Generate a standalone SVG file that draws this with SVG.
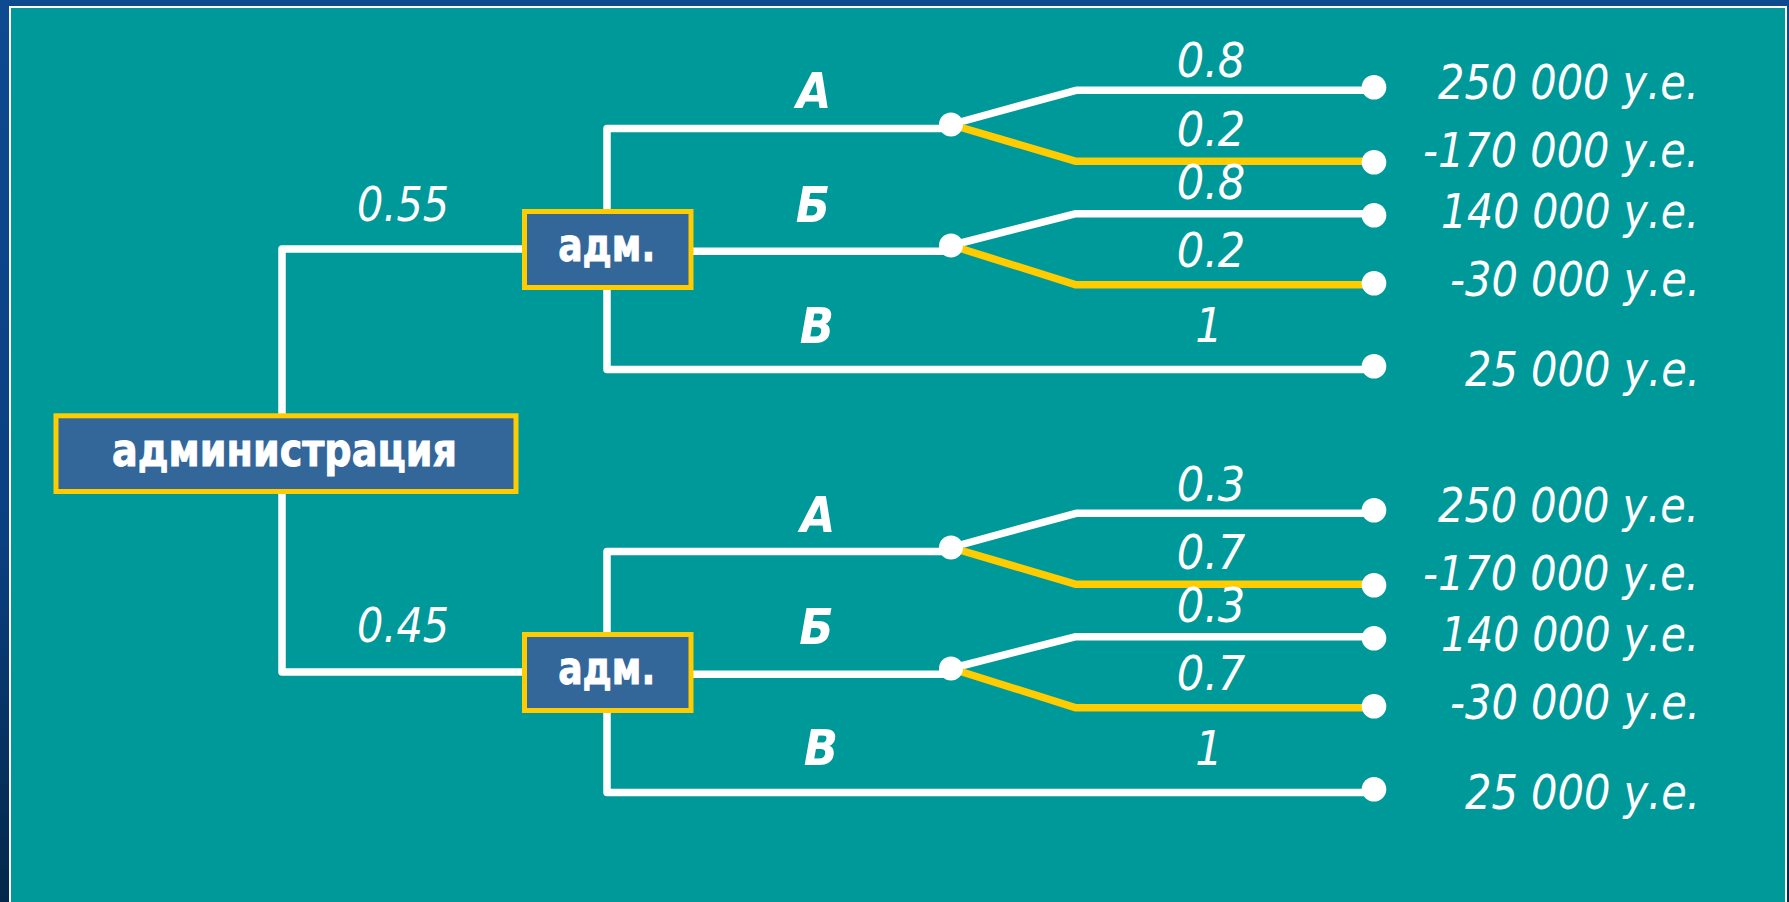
<svg xmlns="http://www.w3.org/2000/svg" width="1789" height="902" viewBox="0 0 1789 902">
<defs>
<linearGradient id="bg" x1="0" y1="0" x2="0" y2="1">
<stop offset="0" stop-color="#0d4a90"/>
<stop offset="0.6" stop-color="#0a3f80"/>
<stop offset="1" stop-color="#03284a"/>
</linearGradient>
<style>
.w{fill:none;stroke:#ffffff;stroke-width:7.5;stroke-linejoin:round}
.y{fill:none;stroke:#ffcc00;stroke-width:7.5;stroke-linejoin:round}
.dot{fill:#ffffff}
.box{fill:#336699;stroke:#ffcc00;stroke-width:5}
.bl{font-family:"DejaVu Sans Condensed","DejaVu Sans",sans-serif;font-stretch:condensed;font-weight:bold;font-size:47px;fill:#ffffff;stroke:#ffffff;stroke-width:0.9;text-anchor:middle}
.it{font-family:"DejaVu Sans Condensed","DejaVu Sans",sans-serif;font-stretch:condensed;font-style:italic;font-size:48px;fill:#ffffff}
.lt{font-family:"DejaVu Sans Condensed","DejaVu Sans",sans-serif;font-stretch:condensed;font-style:italic;font-weight:bold;font-size:50px;fill:#ffffff;text-anchor:middle}
.pr{text-anchor:middle}
.val{text-anchor:end}
</style>
</defs>
<rect x="0" y="0" width="1789" height="902" fill="url(#bg)"/>
<rect x="10" y="7" width="1776" height="960" fill="#009999" stroke="#ffffff" stroke-width="2"/>

<g id="connectors">
<path class="w" d="M522 249 H282 V672 H522"/>
<g id="upper-lines">
<path class="w" d="M951 128.5 H607 V369.5 H1374"/>
<path class="w" d="M693 251.3 H951"/>
<path class="w" d="M951 124.5 L1076 90.3 H1374"/>
<path class="y" d="M951 124.5 L1076 161.3 H1374"/>
<path class="w" d="M951 245.5 L1076 213.7 H1374"/>
<path class="y" d="M951 245.5 L1076 284.8 H1374"/>
</g>
<g id="lower-lines" transform="translate(0,423)">
<path class="w" d="M951 128.5 H607 V369.5 H1374"/>
<path class="w" d="M693 251.3 H951"/>
<path class="w" d="M951 124.5 L1076 90.3 H1374"/>
<path class="y" d="M951 124.5 L1076 161.3 H1374"/>
<path class="w" d="M951 245.5 L1076 213.7 H1374"/>
<path class="y" d="M951 245.5 L1076 284.8 H1374"/>
</g>
</g>

<g id="chance-upper">
<circle class="dot" cx="951" cy="124.5" r="12"/>
<circle class="dot" cx="951" cy="245.5" r="12"/>
</g>
<g id="chance-lower" transform="translate(0,423)">
<circle class="dot" cx="951" cy="124.5" r="12"/>
<circle class="dot" cx="951" cy="245.5" r="12"/>
</g>

<g id="root">
<rect class="box" x="56" y="415.8" width="460" height="75.7"/>
<text class="bl" x="284.5" y="465.7" textLength="345" lengthAdjust="spacingAndGlyphs">администрация</text>
</g>
<g id="adm-upper">
<rect class="box" x="524.5" y="211.5" width="166.5" height="76"/>
<text class="bl" x="606.7" y="261" textLength="97" lengthAdjust="spacingAndGlyphs">адм.</text>
</g>
<g id="adm-lower">
<rect class="box" x="524.5" y="634.5" width="166.5" height="76"/>
<text class="bl" x="606.7" y="684" textLength="97" lengthAdjust="spacingAndGlyphs">адм.</text>
</g>

<g id="root-labels">
<text class="it" x="357" y="220.5" textLength="92" lengthAdjust="spacingAndGlyphs">0.55</text>
<text class="it" x="357" y="642.3" textLength="92" lengthAdjust="spacingAndGlyphs">0.45</text>
</g>

<g id="alt-labels">
<text class="lt" x="814" y="108.3">А</text>
<text class="lt" x="813" y="221.7">Б</text>
<text class="lt" x="817" y="342.7">В</text>
<text class="lt" x="818" y="531.7">А</text>
<text class="lt" x="816.5" y="644.3">Б</text>
<text class="lt" x="821" y="765.3">В</text>
</g>

<g id="prob-upper">
<text class="it pr" x="1211" y="77.3">0.8</text>
<text class="it pr" x="1211" y="145.7">0.2</text>
<text class="it pr" x="1211" y="199">0.8</text>
<text class="it pr" x="1211" y="266.7">0.2</text>
<text class="it pr" x="1209" y="341.7">1</text>
</g>
<g id="prob-lower">
<text class="it pr" x="1211" y="500.5">0.3</text>
<text class="it pr" x="1211" y="568.5">0.7</text>
<text class="it pr" x="1211" y="621.5">0.3</text>
<text class="it pr" x="1211" y="689.5">0.7</text>
<text class="it pr" x="1209" y="764.7">1</text>
</g>

<g id="outcomes-upper">
<circle class="dot" cx="1374" cy="87.2" r="12.3"/>
<circle class="dot" cx="1374" cy="162.2" r="12.3"/>
<circle class="dot" cx="1374" cy="215.2" r="12.3"/>
<circle class="dot" cx="1374" cy="283.2" r="12.3"/>
<circle class="dot" cx="1374" cy="366.2" r="12.3"/>
<text class="it val" x="1699" y="99.3" textLength="261" lengthAdjust="spacingAndGlyphs">250 000 у.е.</text>
<text class="it val" x="1699" y="166.7" textLength="276" lengthAdjust="spacingAndGlyphs">-170 000 у.е.</text>
<text class="it val" x="1699" y="228.3" textLength="258" lengthAdjust="spacingAndGlyphs">140 000 у.е.</text>
<text class="it val" x="1700" y="296" textLength="250" lengthAdjust="spacingAndGlyphs">-30 000 у.е.</text>
<text class="it val" x="1700" y="385.7" textLength="235" lengthAdjust="spacingAndGlyphs">25 000 у.е.</text>
</g>
<g id="outcomes-lower" transform="translate(0,423)">
<circle class="dot" cx="1374" cy="87.2" r="12.3"/>
<circle class="dot" cx="1374" cy="162.2" r="12.3"/>
<circle class="dot" cx="1374" cy="215.2" r="12.3"/>
<circle class="dot" cx="1374" cy="283.2" r="12.3"/>
<circle class="dot" cx="1374" cy="366.2" r="12.3"/>
<text class="it val" x="1699" y="99.3" textLength="261" lengthAdjust="spacingAndGlyphs">250 000 у.е.</text>
<text class="it val" x="1699" y="166.7" textLength="276" lengthAdjust="spacingAndGlyphs">-170 000 у.е.</text>
<text class="it val" x="1699" y="228.3" textLength="258" lengthAdjust="spacingAndGlyphs">140 000 у.е.</text>
<text class="it val" x="1700" y="296" textLength="250" lengthAdjust="spacingAndGlyphs">-30 000 у.е.</text>
<text class="it val" x="1700" y="385.7" textLength="235" lengthAdjust="spacingAndGlyphs">25 000 у.е.</text>
</g>
</svg>
